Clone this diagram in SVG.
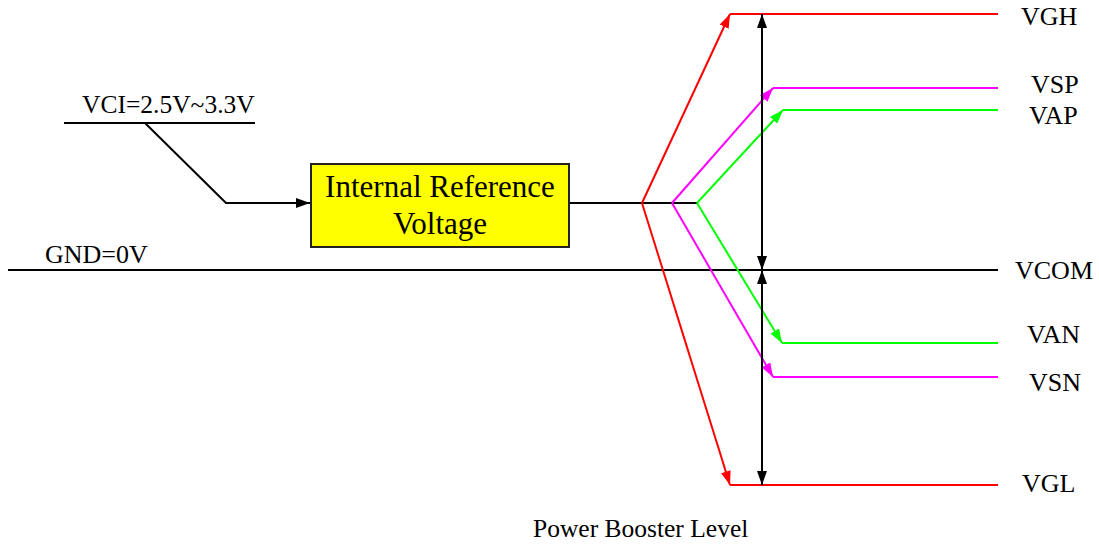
<svg xmlns="http://www.w3.org/2000/svg" width="1099" height="546" viewBox="0 0 1099 546">
<style>
text{font-family:"Liberation Serif","Times New Roman",serif;fill:#000}
.lbl{font-size:26px}
.k{stroke:#000;stroke-width:2;fill:none}
.r{stroke:#f00;stroke-width:2;fill:none}
.m{stroke:#f0f;stroke-width:2;fill:none}
.g{stroke:#0f0;stroke-width:2;fill:none}
</style>
<defs>
<marker id="ak" viewBox="0 0 14 10" refX="14" refY="5" markerWidth="14" markerHeight="10" markerUnits="userSpaceOnUse" orient="auto"><path d="M0,0L14,5L0,10z" fill="#000"/></marker>
<marker id="ar" viewBox="0 0 14 10" refX="14" refY="5" markerWidth="14" markerHeight="10" markerUnits="userSpaceOnUse" orient="auto"><path d="M0,0L14,5L0,10z" fill="#f00"/></marker>
<marker id="am" viewBox="0 0 14 10" refX="14" refY="5" markerWidth="14" markerHeight="10" markerUnits="userSpaceOnUse" orient="auto"><path d="M0,0L14,5L0,10z" fill="#f0f"/></marker>
<marker id="ag" viewBox="0 0 14 10" refX="14" refY="5" markerWidth="14" markerHeight="10" markerUnits="userSpaceOnUse" orient="auto"><path d="M0,0L14,5L0,10z" fill="#0f0"/></marker>
<marker id="aks" viewBox="0 0 14 10" refX="0" refY="5" markerWidth="14" markerHeight="10" markerUnits="userSpaceOnUse" orient="auto"><path d="M14,0L0,5L14,10z" fill="#000"/></marker>
</defs>
<g id="connectors">
<polyline class="k" points="145,123 226,203 310,203" marker-end="url(#ak)"/>
<line class="k" x1="570" y1="203" x2="697" y2="203"/>
<line class="k" x1="8" y1="270" x2="998" y2="270"/>
<line class="r" x1="642" y1="203" x2="730" y2="14" marker-end="url(#ar)"/>
<line class="r" x1="642" y1="203" x2="730" y2="485" marker-end="url(#ar)"/>
<line class="m" x1="672" y1="203" x2="773" y2="88" marker-end="url(#am)"/>
<line class="m" x1="672" y1="203" x2="773" y2="377" marker-end="url(#am)"/>
<line class="g" x1="697" y1="203" x2="783" y2="110" marker-end="url(#ag)"/>
<line class="g" x1="697" y1="203" x2="782" y2="343" marker-end="url(#ag)"/>
<line class="r" x1="730" y1="14" x2="998" y2="14"/>
<line class="r" x1="730" y1="485" x2="998" y2="485"/>
<line class="m" x1="773" y1="88" x2="998" y2="88"/>
<line class="m" x1="773" y1="377" x2="998" y2="377"/>
<line class="g" x1="783" y1="110" x2="998" y2="110"/>
<line class="g" x1="782" y1="343" x2="998" y2="343"/>
<line class="k" stroke-width="2.5" x1="762" y1="14" x2="762" y2="270" marker-start="url(#aks)" marker-end="url(#ak)"/>
<line class="k" stroke-width="2.5" x1="762" y1="270" x2="762" y2="485" marker-start="url(#aks)" marker-end="url(#ak)"/>
</g>
<g id="vci">
<text x="82" y="113" font-size="25.5">VCI=2.5V~3.3V</text>
<line class="k" x1="64" y1="123" x2="255" y2="123"/>
</g>
<g id="gnd"><text class="lbl" x="45" y="263">GND=0V</text></g>
<g id="irv">
<rect x="311" y="164" width="258" height="83" fill="#ff0" stroke="#222" stroke-width="2"/>
<text x="440" y="197" font-size="31" text-anchor="middle">Internal Reference</text>
<text x="440" y="234" font-size="31" text-anchor="middle">Voltage</text>
</g>
<g id="vgh"><text class="lbl" x="1021" y="25">VGH</text></g>
<g id="vsp"><text class="lbl" x="1031" y="93">VSP</text></g>
<g id="vap"><text class="lbl" x="1029" y="124">VAP</text></g>
<g id="vcom"><text class="lbl" x="1015" y="279">VCOM</text></g>
<g id="van"><text class="lbl" x="1027" y="343">VAN</text></g>
<g id="vsn"><text class="lbl" x="1029" y="391">VSN</text></g>
<g id="vgl"><text class="lbl" x="1022" y="492">VGL</text></g>
<g id="title"><text x="533" y="537" font-size="25.5">Power Booster Level</text></g>
</svg>
